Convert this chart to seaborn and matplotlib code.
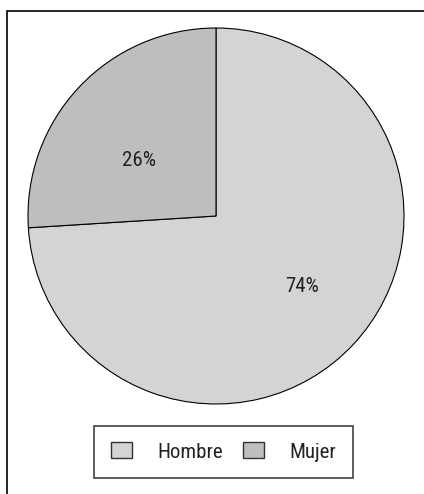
import matplotlib
matplotlib.use("Agg")
import numpy as np
import matplotlib.pyplot as plt
import seaborn as sns
from matplotlib.patches import Rectangle, Patch

categories = ["Hombre", "Mujer"]
values = [74, 26]
colors = ["#d3d4d6", "#bebebf"]

sns.set_style("white")
plt.rcParams['font.family'] = ['Roboto Condensed', 'Archivo Narrow', 'DejaVu Sans']

W, H = 424, 494
fig = plt.figure(figsize=(W / 100, H / 100), dpi=100)

cx, cy, r = 216, 216, 188
ax = fig.add_axes([(cx - r) / W, (H - cy - r) / H, 2 * r / W, 2 * r / H])
wedges, texts, autotexts = ax.pie(
    values, colors=colors, startangle=90, counterclock=False,
    autopct=lambda p: f"{p:.0f}%", pctdistance=0.55,
    wedgeprops=dict(edgecolor="black", linewidth=0.8),
    textprops=dict(fontsize=15, color="#222222"))

# label placement tweaks (radius fraction, angular shift in degrees)
label_radius = [0.59, 0.505]
label_shift = [3.7, 7.2]
for w, t, lr, sh in zip(wedges, autotexts, label_radius, label_shift):
    mid = np.deg2rad((w.theta1 + w.theta2) / 2 + sh)
    t.set_position((lr * np.cos(mid), lr * np.sin(mid)))

ax.set_xlim(-1.0, 1.0)
ax.set_ylim(-1.0, 1.0)
ax.set_aspect("equal")
ax.axis("off")

# page frame (top and left visible)
fig.patches.append(Rectangle((7 / W, -0.1), 1.2, 1.1 - 11 / H,
                             transform=fig.transFigure, fill=False,
                             edgecolor="black", linewidth=1.2, clip_on=False))

handles = [Patch(facecolor=c, edgecolor="#333333", linewidth=1.0) for c in colors]
leg = fig.legend(handles, categories, loc="center", ncol=2,
                 bbox_to_anchor=(223.5 / W, 1 - 452 / H),
                 fontsize=15, handlelength=1.0, handleheight=0.8,
                 handletextpad=1.2, columnspacing=1.0, borderpad=0.8,
                 fancybox=False, frameon=True)
leg.get_frame().set_edgecolor("black")
leg.get_frame().set_linewidth(1.1)
for t in leg.get_texts():
    t.set_color("#222222")

fig.savefig("out.png", dpi=100)
